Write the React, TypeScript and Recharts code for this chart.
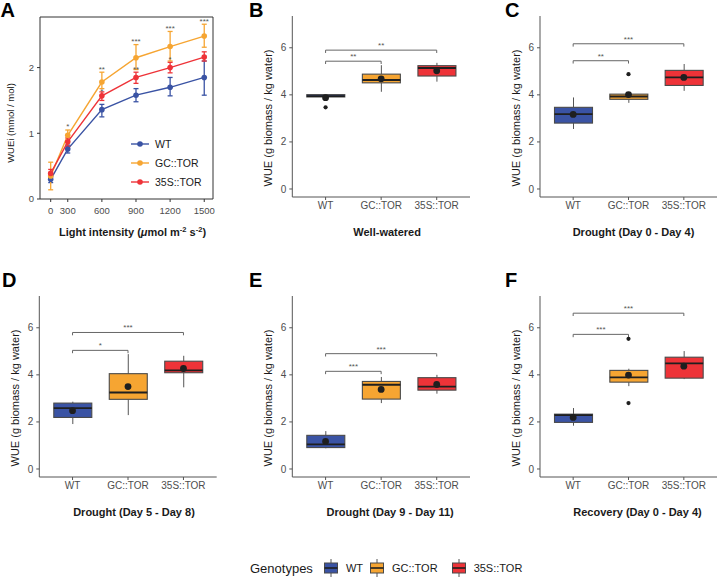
import React from 'react';
import {
  ComposedChart,
  Line,
  Bar,
  Scatter,
  XAxis,
  YAxis,
  ErrorBar,
  ReferenceLine,
  ReferenceArea,
  Legend,
  Label,
} from 'recharts';

const FONT = '"Liberation Sans", Arial, Helvetica, sans-serif';
const INK = '#1a1a1a';
const TICK = '#4d4d4d';

const genotypes = ['WT', 'GC::TOR', '35S::TOR'];
const genoColors = ['#3A53A4', '#F6A532', '#EE3338'];

// ---------- Panel A ----------
const lightLabels = ['0', '300', '600', '900', '1200', '1500'];
const lightPos = [150, 300, 600, 900, 1200, 1500];
const wtMean = [0.3, 0.76, 1.36, 1.58, 1.7, 1.85];
const wtLow = [0.25, 0.7, 1.25, 1.48, 1.57, 1.58];
const wtHigh = [0.34, 0.82, 1.44, 1.68, 1.85, 2.1];
const gcMean = [0.35, 0.97, 1.78, 2.15, 2.32, 2.48];
const gcLow = [0.14, 0.88, 1.68, 1.97, 2.1, 2.31];
const gcHigh = [0.56, 1.05, 1.93, 2.35, 2.55, 2.66];
const tsMean = [0.39, 0.87, 1.57, 1.85, 2.0, 2.16];
const tsLow = [0.33, 0.8, 1.5, 1.76, 1.92, 2.1];
const tsHigh = [0.45, 0.93, 1.63, 1.93, 2.08, 2.24];
const starPos = [300, 600, 600, 900, 900, 1200, 1200, 1500];
const starY = [1.13, 2.0, 1.67, 2.42, 2.0, 2.63, 2.15, 2.73];
const starText = ['*', '**', '*', '***', '**', '***', '*', '***'];

// ---------- Box panels: [min, q1, median, q3, max, mean] per genotype ----------
const statsB = [
  [3.9, 3.91, 3.95, 4.01, 4.03, 3.88],
  [4.13, 4.51, 4.63, 4.88, 5.26, 4.68],
  [4.56, 4.8, 5.14, 5.24, 5.36, 5.02],
];
const outliersB = [['WT', 3.47]];
const bracketsB = [['GC::TOR', 5.43, '**'], ['35S::TOR', 5.9, '**']];

const statsC = [
  [2.55, 2.8, 3.18, 3.47, 3.89, 3.17],
  [3.66, 3.81, 3.93, 4.03, 4.1, 4.01],
  [4.17, 4.4, 4.74, 5.04, 5.31, 4.74],
];
const outliersC = [['GC::TOR', 4.88]];
const bracketsC = [['GC::TOR', 5.45, '**'], ['35S::TOR', 6.17, '***']];

const statsD = [
  [1.91, 2.19, 2.59, 2.8, 2.86, 2.48],
  [2.29, 2.96, 3.25, 4.05, 4.88, 3.5],
  [3.47, 4.09, 4.19, 4.58, 4.81, 4.27],
];
const outliersD: any[] = [];
const bracketsD = [['GC::TOR', 5.04, '*'], ['35S::TOR', 5.8, '***']];

const statsE = [
  [0.88, 0.91, 1.05, 1.43, 1.61, 1.17],
  [2.8, 2.97, 3.58, 3.72, 3.91, 3.38],
  [3.2, 3.35, 3.5, 3.88, 4.0, 3.59],
];
const outliersE: any[] = [];
const bracketsE = [['GC::TOR', 4.15, '***'], ['35S::TOR', 4.9, '***']];

const statsF = [
  [1.84, 1.98, 2.29, 2.33, 2.59, 2.19],
  [3.52, 3.69, 3.89, 4.19, 4.26, 3.99],
  [3.82, 3.86, 4.49, 4.75, 5.01, 4.37],
];
const outliersF = [['GC::TOR', 5.53], ['GC::TOR', 2.8]];
const bracketsF = [['GC::TOR', 5.72, '***'], ['35S::TOR', 6.62, '***']];

const boxTicks = [0, 2, 4, 6];

// ---------- helpers ----------
const aData = lightPos.map((pos, i) => ({
  pos,
  wt: wtMean[i],
  wtErr: [wtMean[i] - wtLow[i], wtHigh[i] - wtMean[i]],
  gc: gcMean[i],
  gcErr: [gcMean[i] - gcLow[i], gcHigh[i] - gcMean[i]],
  ts: tsMean[i],
  tsErr: [tsMean[i] - tsLow[i], tsHigh[i] - tsMean[i]],
}));
const starData = starPos.map((pos, i) => ({ pos, y: starY[i], text: starText[i] }));

const buildBox = (stats: number[][]) =>
  stats.map((s, i) => ({
    g: genotypes[i],
    color: genoColors[i],
    min: s[0],
    q1: s[1],
    median: s[2],
    q3: s[3],
    max: s[4],
    mean: s[5],
  }));

const BoxShape = (props: any) => {
  const { x, y, width, height, payload } = props;
  if (!payload || x == null) return null;
  const top = Math.min(y, y + height);
  const h = Math.abs(height);
  const span = payload.max - payload.min;
  const pix = (v: number) => top + ((payload.max - v) / span) * h;
  const cx = x + width / 2;
  const yq3 = pix(payload.q3);
  const yq1 = pix(payload.q1);
  const ymed = pix(payload.median);
  return (
    <g>
      <line x1={cx} x2={cx} y1={top} y2={yq3} stroke="#555" strokeWidth={1} />
      <line x1={cx} x2={cx} y1={yq1} y2={top + h} stroke="#555" strokeWidth={1} />
      <rect
        x={x}
        y={yq3}
        width={width}
        height={Math.max(yq1 - yq3, 0.5)}
        fill={payload.color}
        stroke="#4a4a4a"
        strokeWidth={1.1}
      />
      <line x1={x} x2={x + width} y1={ymed} y2={ymed} stroke="#1f1f1f" strokeWidth={1.8} />
    </g>
  );
};

const MeanDot = (p: any) =>
  p.cx == null ? null : <circle cx={p.cx} cy={p.cy} r={3.4} fill="#1f1f1f" />;
const OutlierDot = (p: any) =>
  p.cx == null ? null : <circle cx={p.cx} cy={p.cy} r={2.1} fill="#1f1f1f" />;
const StarText = (p: any) =>
  p.cx == null ? null : (
    <text x={p.cx} y={p.cy + 4.5} textAnchor="middle" fontSize={8} fill="#555" fontFamily={FONT}>
      {p.payload.text}
    </text>
  );

const tickStyle = (size: number) => ({ fill: TICK, fontSize: size, fontFamily: FONT });

function BoxPanel(props: any) {
  const { left, top, axisX, rightEnd, title, titleDx, stats, outliers, brackets } = props;
  const data = buildBox(stats);
  const outData = outliers.map((o: any[]) => ({ g: o[0], v: o[1] }));
  const refs: any[] = [];
  brackets.forEach((b: any[], i: number) => {
    const [g, y, stars] = b;
    refs.push(
      <ReferenceLine
        key={`h${i}`}
        segment={[{ x: 'WT', y }, { x: g, y }]}
        stroke="#666"
        strokeWidth={1}
        label={{ value: stars, position: 'top', offset: 2, fill: '#555', fontSize: 8, fontFamily: FONT }}
      />
    );
    refs.push(
      <ReferenceLine key={`l${i}`} segment={[{ x: 'WT', y }, { x: 'WT', y: y - 0.12 }]} stroke="#666" strokeWidth={1} />
    );
    refs.push(
      <ReferenceLine key={`r${i}`} segment={[{ x: g, y }, { x: g, y: y - 0.12 }]} stroke="#666" strokeWidth={1} />
    );
  });
  return (
    <div style={{ position: 'absolute', left, top }}>
      <ComposedChart
        width={240}
        height={250}
        data={data}
        margin={{ top: 16, right: 240 - rightEnd, left: 0, bottom: 0 }}
      >
        <XAxis
          dataKey="g"
          type="category"
          allowDuplicatedCategory={false}
          padding={{ left: 5.5, right: 5.5 }}
          height={53}
          tickSize={3}
          tickMargin={1.5}
          stroke="#555"
          interval={0}
          tick={tickStyle(10)}
        >
          <Label
            value={title}
            position="insideBottom"
            offset={14}
            dx={titleDx}
            style={{ fontWeight: 'bold', fontSize: 11, fill: INK, fontFamily: FONT }}
          />
        </XAxis>
        <YAxis
          type="number"
          domain={[-0.34, 7.35]}
          allowDataOverflow
          ticks={boxTicks}
          width={axisX}
          tickSize={3}
          tickMargin={3}
          stroke="#555"
          tick={tickStyle(10)}
        >
          <Label
            value="WUE (g biomass / kg water)"
            angle={-90}
            position="insideLeft"
            offset={axisX - 24}
            dy={11.5}
            style={{ textAnchor: 'middle', fontSize: 11, fill: INK, fontFamily: FONT }}
          />
        </YAxis>
        <Bar dataKey={(d: any) => [d.min, d.max]} barSize={38} shape={BoxShape} isAnimationActive={false} />
        <Scatter dataKey="mean" shape={MeanDot} isAnimationActive={false} />
        <Scatter data={outData} dataKey="v" shape={OutlierDot} isAnimationActive={false} />
        {refs}
      </ComposedChart>
    </div>
  );
}

const LightTitle = (props: any) => {
  const vb = props.viewBox || {};
  const cx = (vb.x || 0) + (vb.width || 0) / 2 + 6;
  const y = (vb.y || 0) + (vb.height || 0) - 14;
  return (
    <text x={cx} y={y} textAnchor="middle" fontWeight="bold" fontSize={11} fill={INK} fontFamily={FONT}>
      Light intensity (<tspan fontStyle="italic">μ</tspan>mol m
      <tspan dy={-4} fontSize={7.5}>-2</tspan>
      <tspan dy={4}> s</tspan>
      <tspan dy={-4} fontSize={7.5}>-2</tspan>
      <tspan dy={4}>)</tspan>
    </text>
  );
};

const ALegend = (props: any) => {
  const payload = (props.payload || []).filter((p: any) => p.type !== 'none');
  const items = genotypes
    .map((g) => payload.find((p: any) => p.value === g))
    .filter((p: any) => p);
  return (
    <div style={{ fontFamily: FONT }}>
      {items.map((it: any) => (
        <div key={it.value} style={{ display: 'flex', alignItems: 'center', height: 19 }}>
          <svg width={18} height={10} style={{ marginRight: 6 }}>
            <line x1={0} x2={18} y1={5} y2={5} stroke={it.color} strokeWidth={1.4} />
            <circle cx={9} cy={5} r={2.8} fill={it.color} />
          </svg>
          <span style={{ fontSize: 10.5, color: INK }}>{it.value}</span>
        </div>
      ))}
    </div>
  );
};

function PanelA() {
  return (
    <div style={{ position: 'absolute', left: 0, top: 0 }}>
      <ComposedChart width={240} height={250} data={aData} margin={{ top: 17, right: 27, left: 0, bottom: 0 }}>
        <XAxis
          type="number"
          dataKey="pos"
          domain={[56, 1577]}
          allowDataOverflow
          ticks={lightPos}
          interval={0}
          tickFormatter={(v: number) => lightLabels[lightPos.indexOf(v)]}
          height={51}
          tickSize={3}
          tickMargin={5}
          axisLine={false}
          stroke="#333"
          tick={tickStyle(9.5)}
        >
          <Label content={LightTitle} />
        </XAxis>
        <YAxis
          type="number"
          domain={[0, 2.77]}
          allowDataOverflow
          ticks={[0, 1, 2]}
          width={40}
          tickSize={3}
          tickMargin={3}
          axisLine={false}
          stroke="#333"
          tick={tickStyle(9.5)}
        >
          <Label
            value="WUEi (mmol / mol)"
            angle={-90}
            position="insideLeft"
            offset={11}
            dy={15}
            style={{ textAnchor: 'middle', fontSize: 9.5, fill: INK, fontFamily: FONT }}
          />
        </YAxis>
        <ReferenceArea x1={56} x2={1577} y1={0} y2={2.77} fill="none" stroke="#333" strokeWidth={1} />
        <Line
          dataKey="wt"
          name={genotypes[0]}
          stroke={genoColors[0]}
          strokeWidth={1.4}
          dot={{ r: 2.8, fill: genoColors[0], stroke: genoColors[0], strokeWidth: 0 }}
          isAnimationActive={false}
        >
          <ErrorBar dataKey="wtErr" width={2.5} stroke={genoColors[0]} strokeWidth={1.3} direction="y" />
        </Line>
        <Line
          dataKey="gc"
          name={genotypes[1]}
          stroke={genoColors[1]}
          strokeWidth={1.4}
          dot={{ r: 2.8, fill: genoColors[1], stroke: genoColors[1], strokeWidth: 0 }}
          isAnimationActive={false}
        >
          <ErrorBar dataKey="gcErr" width={2.5} stroke={genoColors[1]} strokeWidth={1.3} direction="y" />
        </Line>
        <Line
          dataKey="ts"
          name={genotypes[2]}
          stroke={genoColors[2]}
          strokeWidth={1.4}
          dot={{ r: 2.8, fill: genoColors[2], stroke: genoColors[2], strokeWidth: 0 }}
          isAnimationActive={false}
        >
          <ErrorBar dataKey="tsErr" width={2.5} stroke={genoColors[2]} strokeWidth={1.3} direction="y" />
        </Line>
        <Scatter data={starData} dataKey="y" shape={StarText} legendType="none" isAnimationActive={false} />
        <Legend
          layout="vertical"
          align="center"
          verticalAlign="middle"
          content={ALegend}
          wrapperStyle={{ left: 131, top: 134.5, width: 90 }}
        />
      </ComposedChart>
    </div>
  );
}

const letterStyle = (left: number, top: number): React.CSSProperties => ({
  position: 'absolute',
  left,
  top,
  fontFamily: FONT,
  fontWeight: 'bold',
  fontSize: 20,
  lineHeight: '20px',
  color: '#000',
});

const LegendKey = ({ color }: { color: string }) => (
  <svg width={14} height={18} style={{ display: 'block' }}>
    <line x1={7} x2={7} y1={0} y2={18} stroke="#555" strokeWidth={1} />
    <rect x={0.5} y={4} width={13} height={10} fill={color} stroke="#4a4a4a" strokeWidth={1} />
    <line x1={0.5} x2={13.5} y1={9} y2={9} stroke="#1f1f1f" strokeWidth={1.6} />
  </svg>
);

export default function App() {
  return (
    <div
      style={{
        position: 'absolute',
        left: 0,
        top: 0,
        width: 720,
        height: 578,
        background: '#fff',
        fontFamily: FONT,
        overflow: 'hidden',
      }}
    >
      <PanelA />
      <BoxPanel left={240} top={0} axisX={52.3} rightEnd={230} title="Well-watered" titleDx={6} stats={statsB} outliers={outliersB} brackets={bracketsB} />
      <BoxPanel left={480} top={0} axisX={60} rightEnd={237} title="Drought (Day 0 - Day 4)" titleDx={5} stats={statsC} outliers={outliersC} brackets={bracketsC} />
      <BoxPanel left={0} top={280} axisX={39.3} rightEnd={216.7} title="Drought (Day 5 - Day 8)" titleDx={6} stats={statsD} outliers={outliersD} brackets={bracketsD} />
      <BoxPanel left={240} top={280} axisX={52.3} rightEnd={230} title="Drought (Day 9 - Day 11)" titleDx={9} stats={statsE} outliers={outliersE} brackets={bracketsE} />
      <BoxPanel left={480} top={280} axisX={60} rightEnd={237} title="Recovery (Day 0 - Day 4)" titleDx={9} stats={statsF} outliers={outliersF} brackets={bracketsF} />

      <div style={letterStyle(0.5, 0.4)}>A</div>
      <div style={letterStyle(249, 0.4)}>B</div>
      <div style={letterStyle(505, 0.4)}>C</div>
      <div style={letterStyle(2, 269.5)}>D</div>
      <div style={letterStyle(249, 269.5)}>E</div>
      <div style={letterStyle(505, 269.5)}>F</div>

      <div
        style={{
          position: 'absolute',
          left: 250,
          top: 559,
          height: 18,
          display: 'flex',
          alignItems: 'center',
          fontFamily: FONT,
          color: INK,
        }}
      >
        <span style={{ fontSize: 13, marginRight: 11 }}>Genotypes</span>
        {genotypes.map((g, i) => (
          <React.Fragment key={g}>
            <LegendKey color={genoColors[i]} />
            <span style={{ fontSize: 11, marginLeft: 8, marginRight: i === 1 ? 14 : 7 }}>{g}</span>
          </React.Fragment>
        ))}
      </div>
    </div>
  );
}
